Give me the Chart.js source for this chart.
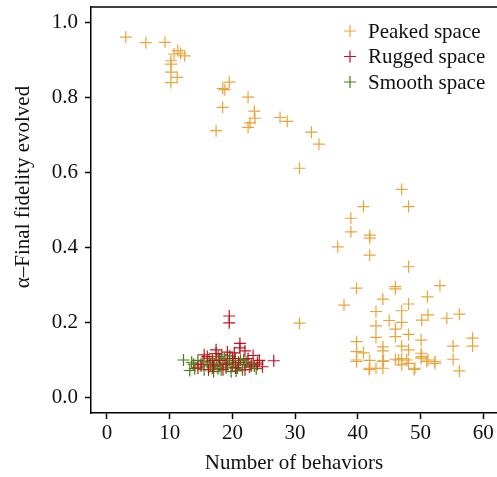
<!DOCTYPE html>
<html>
<head>
<meta charset="utf-8">
<script src="https://cdn.jsdelivr.net/npm/chart.js@4.4.0/dist/chart.umd.min.js"></script>
<style>
  html, body { margin: 0; padding: 0; background: #fff; overflow: hidden; }
  #wrap { width: 497px; height: 477px; }
  #grafico { display: block; }
</style>
</head>
<body>
<div id="wrap"><canvas id="grafico" width="497" height="477"></canvas></div>
<script>
/*************  dados  ****************/
const seriesNames = ['Peaked space', 'Rugged space', 'Smooth space']
const seriesColors = ['#E9A43C', '#C4101E', '#4C7A1C']

const xTicks = [0, 10, 20, 30, 40, 50, 60]
const yTicks = [0.0, 0.2, 0.4, 0.6, 0.8, 1.0]

const xTitle = 'Number of behaviors'
const yTitle = 'α–Final fidelity evolved'

// peaked: [behaviors, fidelity]
const peakedPoints = [
  [3.0,0.96],[6.2,0.945],[9.25,0.946],[10.7,0.915],[11.3,0.924],[11.75,0.917],[12.4,0.910],
  [10.2,0.897],[10.2,0.888],[10.2,0.867],[11.2,0.853],[10.2,0.839],
  [19.5,0.84],[18.45,0.823],[18.8,0.82],[18.45,0.773],[17.4,0.711],
  [22.5,0.80],[23.5,0.763],[23.6,0.744],[22.8,0.732],[22.5,0.72],
  [27.6,0.746],[28.75,0.736],[32.6,0.707],[33.8,0.675],[30.7,0.611],
  [47.0,0.555],[48.1,0.509],[40.9,0.509],[38.9,0.478],[38.9,0.442],[41.9,0.433],[41.9,0.425],
  [36.8,0.402],[41.9,0.38],[48.1,0.349],[39.8,0.292],[37.8,0.247],[30.7,0.199],
  [46.0,0.296],[46.0,0.290],[53.1,0.299],[51.1,0.269],[44.0,0.263],[48.1,0.25],[47.0,0.232],
  [42.9,0.23],[51.2,0.221],[54.2,0.212],[56.2,0.223],[45.0,0.206],[47.0,0.201],[50.2,0.207],
  [42.9,0.192],[46.0,0.183],[48.1,0.169],[42.9,0.161],[46.0,0.163],[50.1,0.154],
  [58.3,0.159],[58.3,0.138],[55.2,0.138],[55.2,0.103],[56.2,0.072],
  [39.8,0.15],[39.8,0.123],[39.8,0.097],[40.9,0.12],[44.0,0.136],[44.0,0.125],[44.0,0.097],
  [44.0,0.079],[42.9,0.079],[41.8,0.076],[47.0,0.138],[48.1,0.128],[47.0,0.105],[46.0,0.103],
  [47.0,0.088],[48.1,0.092],[49.0,0.076],[50.1,0.119],[50.1,0.106],[51.2,0.101],[52.3,0.097],
  [39.8,0.101],[41.9,0.079],[46.5,0.101],[47.8,0.101],[49.1,0.079],[51.0,0.097],[52.3,0.092],
  [50.2,0.11],[44.1,0.099],[41.9,0.10]
]

const ruggedPoints = [
  [19.5,0.218],[19.5,0.200],[26.6,0.099],[21.2,0.145],[21.2,0.133],[17.4,0.128],[17.4,0.118],
  [19.2,0.122],[20.3,0.12],[22.0,0.125],[23.3,0.113],[24.8,0.083],[24.0,0.09],[22.5,0.105],
  [16.0,0.11],[15.0,0.09],[14.5,0.08],[16.2,0.075],[18.0,0.1],[19.0,0.09],[20.0,0.105],
  [21.0,0.095],[23.0,0.085],[17.0,0.085],[18.5,0.075],[15.5,0.115],[22.0,0.075],[20.5,0.08],
  [16.8,0.1],[24.3,0.1]
]

const smoothPoints = [
  [12.2,0.101],[13.2,0.073],[13.8,0.09],[14.5,0.1],[15.0,0.085],[15.5,0.075],[16.0,0.095],
  [16.3,0.105],[16.8,0.08],[17.0,0.07],[17.2,0.09],[17.5,0.1],[17.8,0.11],[18.0,0.085],
  [18.2,0.075],[18.5,0.095],[18.8,0.105],[19.0,0.08],[19.2,0.09],[19.5,0.1],[19.8,0.07],
  [20.0,0.085],[20.2,0.095],[20.5,0.105],[20.8,0.08],[21.0,0.09],[21.3,0.1],[21.6,0.075],
  [22.0,0.088],[22.3,0.095],[22.7,0.082],[23.0,0.09],[23.5,0.085],[24.0,0.095],[18.3,0.115],
  [19.6,0.112],[16.5,0.088],[15.3,0.098],[14.0,0.078],[17.7,0.078],[20.6,0.072],[21.8,0.102],
  [23.8,0.078],[13.5,0.095]
]

//*************  helpers  ****************/
const serif = 'Liberation Serif, Times New Roman, serif'

function toXY(list){
  return list.map(p => ({x: p[0], y: p[1]}))
}

function makeDataset(idx, pts){
  return {
    label: seriesNames[idx],
    data: toXY(pts),
    pointStyle: 'cross',
    pointRadius: 6,
    pointHoverRadius: 6,
    pointBorderWidth: 1.2,
    borderColor: seriesColors[idx],
    backgroundColor: seriesColors[idx],
    showLine: false
  }
}

// sem padding extra das escalas -> area do grafico fica onde queremos
function noPadding(s){
  s.paddingTop = 0
  s.paddingBottom = 0
  s.paddingLeft = 0
  s.paddingRight = 0
}

// linha de cima, titulo do eixo y e legenda dentro da area
const boxAndLegend = {
  id: 'boxAndLegend',
  afterDraw(chart){
    const {ctx, chartArea} = chart
    ctx.save()
    ctx.strokeStyle = '#000'
    ctx.lineWidth = 1.5
    ctx.beginPath()
    ctx.moveTo(chartArea.left, chartArea.top)
    ctx.lineTo(chartArea.right, chartArea.top)
    ctx.stroke()

    ctx.font = '21px ' + serif
    ctx.fillStyle = '#111'

    // titulo y
    ctx.save()
    ctx.translate(23, 187)
    ctx.rotate(-Math.PI / 2)
    ctx.textAlign = 'center'
    ctx.textBaseline = 'middle'
    ctx.fillText(yTitle, 0, 0)
    ctx.restore()

    ctx.textBaseline = 'middle'
    ctx.textAlign = 'left'
    seriesNames.forEach((name, i) => {
      const cy = 31 + i * 25.5
      const cx = 350
      ctx.strokeStyle = seriesColors[i]
      ctx.lineWidth = 1.2
      ctx.beginPath()
      ctx.moveTo(cx - 6, cy); ctx.lineTo(cx + 6, cy)
      ctx.moveTo(cx, cy - 6); ctx.lineTo(cx, cy + 6)
      ctx.stroke()
      ctx.fillStyle = '#111'
      ctx.fillText(name, 368, cy + 1)
    })
    ctx.restore()
  }
}

//*************  grafico  ****************/
new Chart(document.getElementById('grafico'), {
  type: 'scatter',
  data: {
    datasets: [
      makeDataset(0, peakedPoints),
      makeDataset(1, ruggedPoints),
      makeDataset(2, smoothPoints)
    ]
  },
  options: {
    responsive: false,
    animation: false,
    layout: { autoPadding: false, padding: { top: 7, right: 0, left: 0, bottom: 0 } },
    plugins: {
      legend: { display: false },
      tooltip: { enabled: false }
    },
    scales: {
      x: {
        type: 'linear',
        min: -2.55,
        max: 62.2,
        afterBuildTicks: s => { s.ticks = xTicks.map(v => ({value: v})) },
        afterFit: s => { s.height = 64; noPadding(s) },
        border: { display: true, color: '#000', width: 1.5 },
        grid: { display: true, drawOnChartArea: false, tickLength: 6, color: '#000', tickWidth: 1.5 },
        ticks: { color: '#111', padding: 2, maxRotation: 0, font: { family: serif, size: 21 } },
        title: {
          display: true,
          text: xTitle,
          color: '#111',
          padding: { top: 0, bottom: 1 },
          font: { family: serif, size: 21 }
        }
      },
      y: {
        type: 'linear',
        min: -0.04,
        max: 1.04,
        afterBuildTicks: s => { s.ticks = yTicks.map(v => ({value: v})) },
        afterFit: s => { s.width = 91; noPadding(s) },
        border: { display: true, color: '#000', width: 1.5 },
        grid: { display: true, drawOnChartArea: false, tickLength: 6, color: '#000', tickWidth: 1.5 },
        ticks: {
          color: '#111',
          padding: 7,
          font: { family: serif, size: 21 },
          callback: v => v.toFixed(1)
        }
      }
    }
  },
  plugins: [boxAndLegend]
})
</script>
</body>
</html>
